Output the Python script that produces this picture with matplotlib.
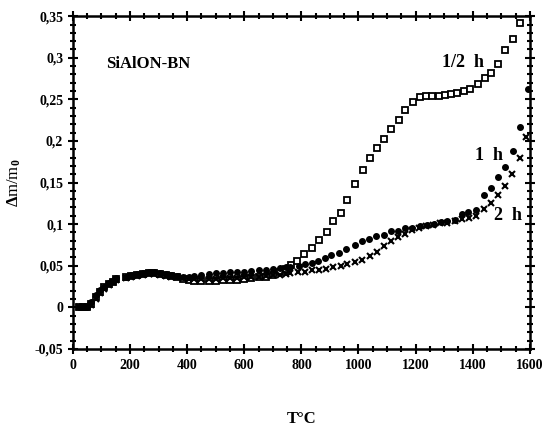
import numpy as np
import matplotlib
matplotlib.use("Agg")
import matplotlib.pyplot as plt
from matplotlib.ticker import MultipleLocator, FuncFormatter

plt.rcParams["font.family"] = ["Liberation Serif", "DejaVu Serif"]
plt.rcParams["font.weight"] = "bold"
plt.rcParams["mathtext.fontset"] = "custom"
plt.rcParams["mathtext.rm"] = "Liberation Serif:bold"
plt.rcParams["mathtext.it"] = "Liberation Serif:bold"

# low-temperature temperature grid shared by the three runs
t_low = [20, 35, 50, 65, 80, 95, 110, 125, 140, 150, 185, 205, 225, 245, 265, 285,
         305, 325, 345, 365, 385, 405, 425, 450, 475, 500, 525, 550, 575, 600, 625,
         650, 675, 700, 725, 745]

# 1/2 h (open squares)
t_half = t_low + [763, 786, 809, 836, 861, 888, 911, 938, 961, 989, 1016, 1041, 1065,
                  1091, 1114, 1141, 1164, 1192, 1215, 1236, 1259, 1282, 1302, 1325, 1346,
                  1371, 1392, 1417, 1442, 1465, 1487, 1514, 1540, 1565]
y_half = [0, 0, 0, 0.004, 0.012, 0.019, 0.024, 0.028, 0.031, 0.034, 0.036, 0.038, 0.039,
          0.040, 0.041, 0.041, 0.040, 0.039, 0.038, 0.036, 0.034, 0.033, 0.032, 0.032,
          0.032, 0.032, 0.033, 0.033, 0.033, 0.034, 0.035, 0.036, 0.037, 0.039, 0.042,
          0.046,
          0.051, 0.056, 0.064, 0.071, 0.081, 0.090, 0.104, 0.113, 0.129, 0.148, 0.165,
          0.180, 0.191, 0.202, 0.214, 0.225, 0.237, 0.247, 0.253, 0.254, 0.254, 0.254,
          0.255, 0.256, 0.258, 0.260, 0.263, 0.269, 0.276, 0.282, 0.293, 0.309, 0.323,
          0.342]

# 1 h (filled circles)
t_1h = t_low + [760, 790, 813, 836, 859, 882, 905, 932, 957, 987, 1013, 1036, 1062, 1089,
                1114, 1140, 1163, 1189, 1215, 1239, 1265, 1288, 1311, 1338, 1363, 1384,
                1410, 1439, 1465, 1487, 1514, 1540, 1564, 1592]
y_1h = [0, 0, 0, 0.006, 0.015, 0.021, 0.025, 0.029, 0.032, 0.035, 0.037, 0.039, 0.040,
        0.041, 0.042, 0.042, 0.041, 0.040, 0.039, 0.038, 0.037, 0.037, 0.038, 0.039,
        0.040, 0.041, 0.041, 0.042, 0.042, 0.043, 0.044, 0.045, 0.045, 0.046, 0.047,
        0.048,
        0.048, 0.0495, 0.052, 0.0535, 0.056, 0.0595, 0.0625, 0.0655, 0.070, 0.075,
        0.0795, 0.082, 0.0855, 0.087, 0.0915, 0.092, 0.095, 0.0955, 0.0975, 0.099,
        0.100, 0.102, 0.1035, 0.1055, 0.112, 0.114, 0.117, 0.135, 0.144, 0.157, 0.169,
        0.188, 0.217, 0.262]

# 2 h (crosses)
t_2h = t_low + [761, 787, 813, 836, 862, 886, 911, 938, 961, 987, 1013, 1039, 1065, 1089,
                1114, 1140, 1164, 1187, 1213, 1236, 1261, 1286, 1311, 1337, 1361, 1387,
                1413, 1439, 1464, 1487, 1512, 1537, 1566, 1587]
y_2h = [0, 0, 0, 0.003, 0.010, 0.017, 0.022, 0.027, 0.030, 0.033, 0.035, 0.037, 0.038,
        0.039, 0.040, 0.040, 0.039, 0.038, 0.037, 0.036, 0.035, 0.034, 0.034, 0.034,
        0.034, 0.034, 0.035, 0.035, 0.035, 0.036, 0.036, 0.037, 0.038, 0.0385, 0.039,
        0.040,
        0.041, 0.042, 0.043, 0.0445, 0.045, 0.0465, 0.048, 0.0495, 0.0515, 0.054,
        0.057, 0.062, 0.067, 0.074, 0.080, 0.084, 0.088, 0.093, 0.0955, 0.0975, 0.099,
        0.1015, 0.1015, 0.1035, 0.106, 0.1075, 0.110, 0.118, 0.126, 0.135, 0.1455,
        0.160, 0.180, 0.205]

fig = plt.figure(figsize=(5.44, 4.26), dpi=100)
ax = fig.add_axes([0.134, 0.181, 0.840, 0.781])

ax.plot(t_half, y_half, ls="none", marker="s", ms=4, mfc="white", mec="black", mew=1.3)
ax.plot(t_1h, y_1h, ls="none", marker="o", ms=4, mfc="black", mec="black")
ax.plot(t_2h, y_2h, ls="none", marker="x", ms=4, mec="black", mew=1.5)

ax.set_xlim(0, 1600)
ax.set_ylim(-0.05, 0.35)
ax.xaxis.set_major_locator(MultipleLocator(200))
ax.xaxis.set_minor_locator(MultipleLocator(50))
ax.yaxis.set_major_locator(MultipleLocator(0.05))
ax.yaxis.set_minor_locator(MultipleLocator(0.01))


def comma(v, pos):
    s = f"{v:.2f}".rstrip("0").rstrip(".")
    if s in ("-0", "0"):
        return "0"
    return s.replace(".", ",")


ax.yaxis.set_major_formatter(FuncFormatter(comma))
ax.tick_params(which="both", direction="inout", top=True, right=True, width=1.5,
               labelsize=10)
ax.tick_params(which="major", length=7)
ax.tick_params(which="minor", length=4)
for s in ax.spines.values():
    s.set_linewidth(1.8)

ax.set_xlabel("T°C", fontsize=12, fontweight="bold", labelpad=28)
ax.set_ylabel(r"$\Delta$m/m$_0$", fontsize=12, labelpad=8)

ax.text(115, 0.293, "SiAlON-BN", fontsize=12, fontweight="bold", va="center")
ax.text(1294, 0.294, "1/2  h", fontsize=13, fontweight="bold", va="center")
ax.text(1409, 0.182, "1  h", fontsize=13, fontweight="bold", va="center")
ax.text(1475, 0.110, "2  h", fontsize=13, fontweight="bold", va="center")

fig.savefig("out.png", dpi=100)
